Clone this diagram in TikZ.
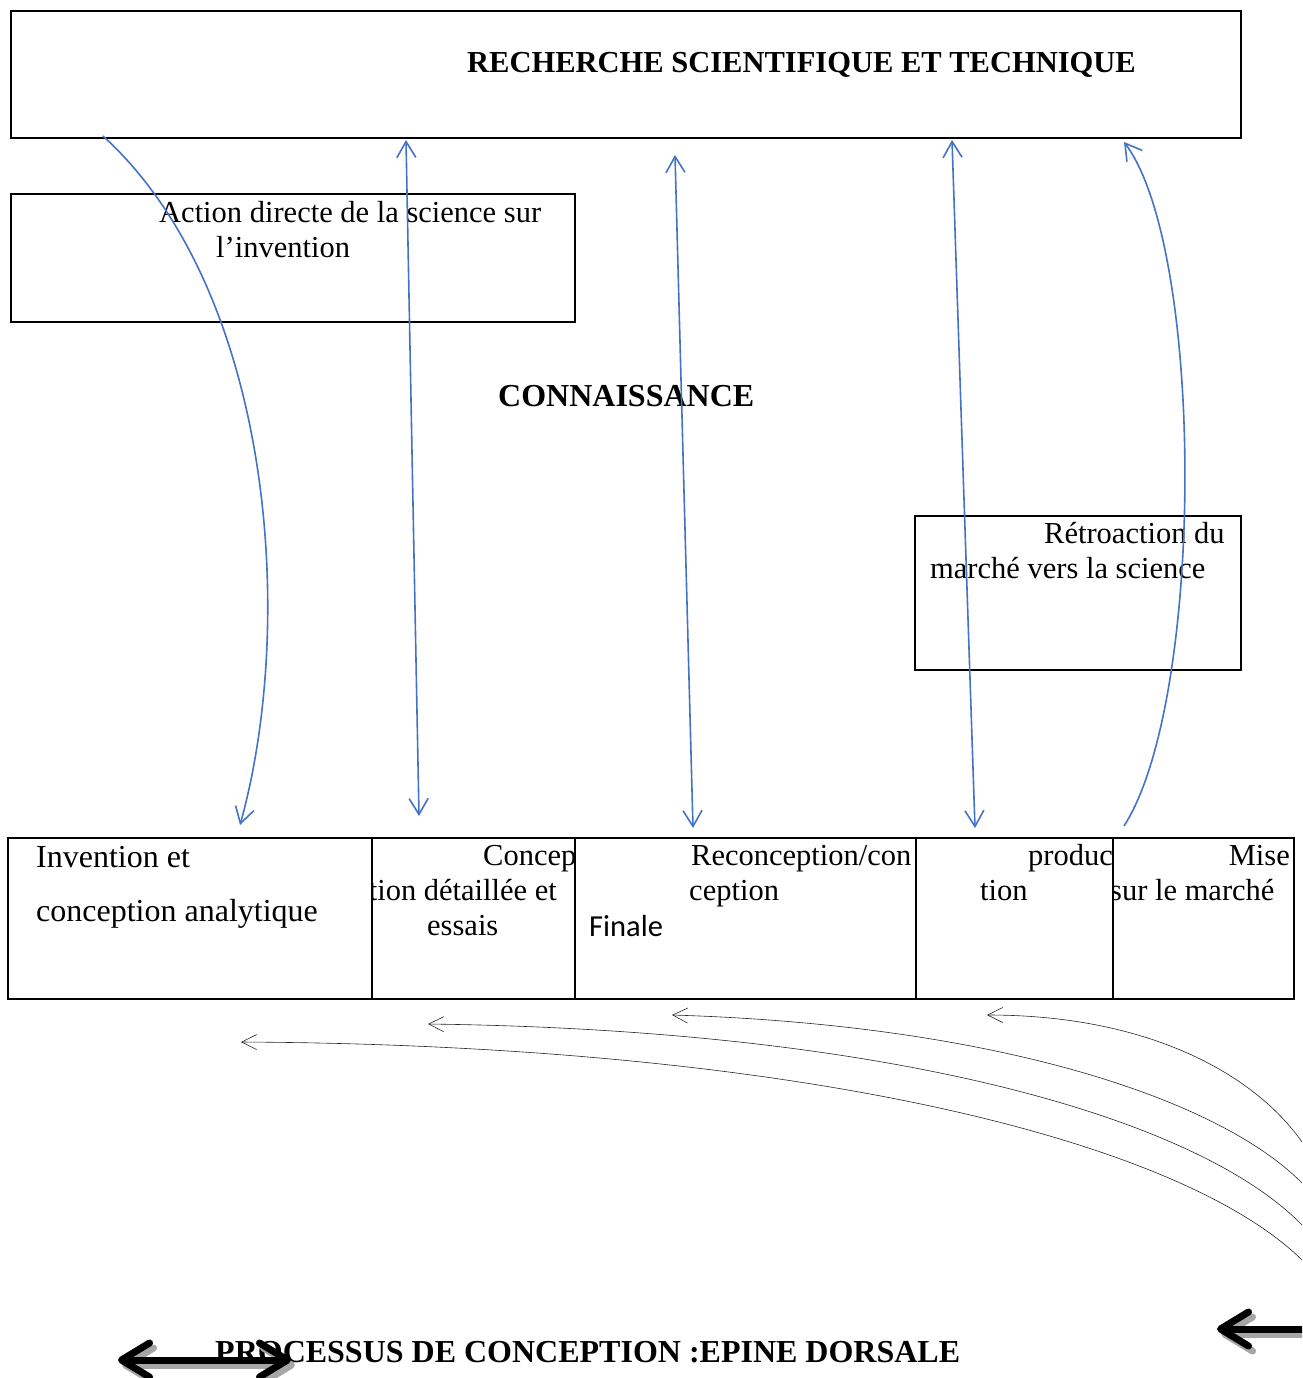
\documentclass[tikz,border=0pt]{standalone}
\usepackage{fontspec}
\setmainfont{Liberation Serif}
\newfontfamily\calibfont{Carlito}
\usetikzlibrary{arrows.meta}
\definecolor{linkblue}{HTML}{4472C4}
\definecolor{shadowgray}{HTML}{A6A6A6}

\begin{document}
\begin{tikzpicture}[x=1pt,y=-1pt,
  frame/.style={draw=black, line width=1.7pt, inner sep=0pt, anchor=north west},
  txt/.style={inner sep=0pt, font=\fontsize{30.5}{35}\selectfont},
  ltxt/.style={inner sep=0pt, font=\fontsize{32}{36}\selectfont},
  btxt/.style={inner sep=0pt, font=\fontsize{30.5}{35}\selectfont\bfseries},
  lbtxt/.style={inner sep=0pt, font=\fontsize{32}{36}\selectfont\bfseries},
  link/.style={draw=linkblue, line width=1.6pt},
  bluetip/.tip={Straight Barb[length=16pt 0 0,width=19pt 0 0]},
  feedback/.style={draw=black!85, line width=0.6pt},
  thintip/.tip={Straight Barb[length=15pt 0 0,width=15pt 0 0]},
  spine/.style={line width=7pt, line cap=round},
  bigtip/.tip={Straight Barb[round,length=28pt 0 0,width=34pt 0 0]}]

\useasboundingbox (0,0) rectangle (1302,1378);
\clip (0,0) rectangle (1302,1378);

% upper boxes
\node[frame, minimum width=1230pt, minimum height=127pt] (rst) at (10,10) {};
\node[frame, minimum width=564pt, minimum height=128pt] (action) at (10,193) {};
\node[frame, minimum width=326pt, minimum height=154pt] (retro) at (914,515) {};

% design-process cells
\node[frame, minimum width=364pt, minimum height=161pt] (c1) at (7,837) {};
\node[frame, minimum width=203pt, minimum height=161pt] (c2) at (371,837) {};
\node[frame, minimum width=341pt, minimum height=161pt] (c3) at (574,837) {};
\node[frame, minimum width=197pt, minimum height=161pt] (c4) at (915,837) {};
\node[frame, minimum width=181pt, minimum height=161pt] (c5) at (1112,837) {};

% titles
\node[btxt, anchor=base west] (t-rst) at (467,73) {RECHERCHE SCIENTIFIQUE ET TECHNIQUE};
\node[lbtxt, anchor=base west] (t-conn) at (498,406) {CONNAISSANCE};
\node[lbtxt, anchor=base west] (t-spine) at (215,1362) {PROCESSUS DE CONCEPTION :EPINE DORSALE};

% box captions
\node[txt, anchor=base west] (t-act1) at (159,222) {Action directe de la science sur};
\node[txt, anchor=base west] (t-act2) at (216,257) {l’invention};
\node[txt, anchor=base west] (t-ret1) at (1044,543) {Rétroaction du};
\node[txt, anchor=base west] (t-ret2) at (930,578) {marché vers la science};

% cell captions, cut at the cell borders
\node[ltxt, anchor=base west] (t-c1a) at (36,867) {Invention et};
\node[ltxt, anchor=base west] (t-c1b) at (36,921) {conception analytique};
\begin{scope}
  \clip (c2.north west) rectangle (c2.south east);
  \node[txt, anchor=base west] (t-c2a) at (483,865) {Conception};
  \node[txt, anchor=base east] (t-c2b) at (557,900) {tion détaillée et};
  \node[txt, anchor=base west] (t-c2c) at (427,935) {essais};
\end{scope}
\node[txt, anchor=base west] (t-c3a) at (691,865) {Reconception/con};
\node[txt, anchor=base west] (t-c3b) at (689,900) {ception};
\node[inner sep=0pt, anchor=base west, font=\calibfont\fontsize{30.5}{35}\selectfont] (t-c3c) at (589,936) {Finale};
\begin{scope}
  \clip (c4.north west) rectangle (c4.south east);
  \node[txt, anchor=base west] (t-c4a) at (1028,865) {production};
  \node[txt, anchor=base west] (t-c4b) at (980,900) {tion};
\end{scope}
\begin{scope}
  \clip (c5.north west) rectangle (c5.south east);
  \node[txt, anchor=base east] (t-c5a) at (1290,865) {Mise};
  \node[txt, anchor=base west] (t-c5b) at (1110,900) {sur le marché};
\end{scope}

% links between research and the design chain
\coordinate (a1s) at (103,136);
\coordinate (a1e) at (240,825);
\coordinate (a2s) at (406,140);
\coordinate (a2e) at (419,816);
\coordinate (a3s) at (675,155);
\coordinate (a3e) at (693,828);
\coordinate (a4s) at (952,140);
\coordinate (a4e) at (975,828);
\coordinate (a5s) at (1124,826);
\coordinate (a5e) at (1124,142);

\draw[link, -bluetip] (a1s) .. controls (272,290) and (297,620) .. (a1e);
\draw[link, bluetip-bluetip] (a2s) -- (a2e);
\draw[link, bluetip-bluetip] (a3s) -- (a3e);
\draw[link, bluetip-bluetip] (a4s) -- (a4e);
\draw[link, -bluetip] (a5s) .. controls (1205,700) and (1205,250) .. (a5e);

% feedback loops returning along the chain
\coordinate (f1s) at (1302,1142);
\coordinate (f1e) at (987,1015);
\coordinate (f2s) at (1302,1183);
\coordinate (f2e) at (672,1015);
\coordinate (f3s) at (1302,1225);
\coordinate (f3e) at (428,1024);
\coordinate (f4s) at (1302,1260);
\coordinate (f4e) at (241,1042);

\draw[feedback, -thintip] (f1s) .. controls (1255,1075) and (1150,1015) .. (f1e);
\draw[feedback, -thintip] (f2s) .. controls (1220,1100) and (1000,1025) .. (f2e);
\draw[feedback, -thintip] (f3s) .. controls (1200,1120) and (900,1030) .. (f3e);
\draw[feedback, -thintip] (f4s) .. controls (1180,1140) and (800,1045) .. (f4e);

% thick spine arrows, each over a grey drop shadow
\coordinate (sl) at (118,1360);
\coordinate (sr) at (291,1360);
\coordinate (rs) at (1320,1329);
\coordinate (re) at (1217,1329);
\draw[spine, draw=shadowgray, bigtip-bigtip] ([shift={(4,5)}]sl) -- ([shift={(4,5)}]sr);
\draw[spine, draw=shadowgray, -bigtip] ([shift={(4,5)}]rs) -- ([shift={(4,5)}]re);
\draw[spine, bigtip-bigtip] (sl) -- (sr);
\draw[spine, -bigtip] (rs) -- (re);
\end{tikzpicture}
\end{document}
